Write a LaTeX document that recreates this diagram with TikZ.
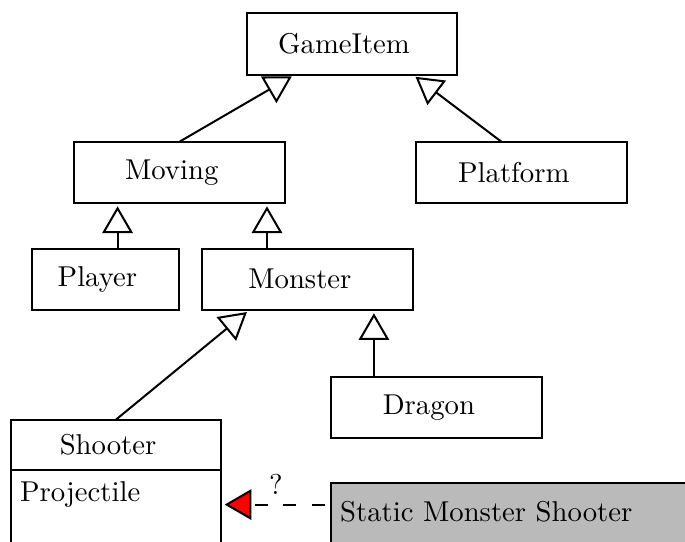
\documentclass[tikz,border=0pt]{standalone}
\usetikzlibrary{arrows.meta}

\definecolor{staticgray}{gray}{0.73}

\begin{document}
\begin{tikzpicture}[
    umlclass/.style={draw, line width=0.7pt, outer sep=0pt, minimum width=2.58cm, minimum height=0.75cm,
                     execute at end node={\hspace{5.5pt}}},
    inherit/.style={line width=0.7pt, -{Triangle[open,length=9.3pt,width=10.6pt]}, shorten >=1.2pt},
    realize/.style={line width=0.7pt, dash pattern=on 4.5pt off 5.5pt, dash phase=8pt,
                    -{Triangle[fill=red,length=9.3pt,width=10.6pt]}, shorten >=1.2pt}
  ]
    \useasboundingbox (0,0) rectangle (8.39,-6.63);
    \clip (0,0) rectangle (8.39,-6.63);

    % Class hierarchy
    \node[umlclass] (gameitem) at (4.31,-0.54) {GameItem};
    \node[umlclass] (moving)   at (2.2,-2.11)  {Moving};
    \node[umlclass] (platform) at (6.39,-2.11) {Platform};
    \node[umlclass, minimum width=1.8cm] (player) at (1.29,-3.42) {Player};
    \node[umlclass] (monster)  at (3.77,-3.42) {Monster};
    \node[umlclass] (dragon)   at (5.35,-4.99) {Dragon};

    % Shooter with its field
    \node[umlclass, minimum height=0.62cm] (shooter) at (1.42,-5.45) {Shooter};
    \node[draw, line width=0.7pt, outer sep=0pt, anchor=north, text width=2.345cm, align=left,
          text height=7.7pt, text depth=1.5cm] (projectile) at (shooter.south) {Projectile};

    \node[draw, line width=0.7pt, outer sep=0pt, fill=staticgray, anchor=north west, text width=5cm,
          align=left, text height=9.9pt, text depth=1cm] (static) at (4.05,-5.92) {Static Monster Shooter};

    % Inheritance
    \draw[inherit] (moving.north) -- ([xshift=-0.70cm]gameitem.south);
    \draw[inherit] ([xshift=-0.25cm]platform.north) -- ([xshift=0.745cm]gameitem.south);
    \draw[inherit] ([xshift=0.15cm]player.north) -- ([xshift=0.15cm]player.north |- moving.south);
    \draw[inherit] ([xshift=-0.5cm]monster.north) -- ([xshift=-0.5cm]monster.north |- moving.south);
    \draw[inherit] (shooter.north) -- ([xshift=-0.713cm]monster.south);
    \draw[inherit] ([xshift=-0.77cm]dragon.north) -- ([xshift=-0.77cm]dragon.north |- monster.south);

    % Open question
    \draw[realize] ([yshift=-0.26cm]static.north west) -- ([yshift=-0.26cm]static.north west -| projectile.east)
        node[midway, above] (question) {?};
\end{tikzpicture}
\end{document}
